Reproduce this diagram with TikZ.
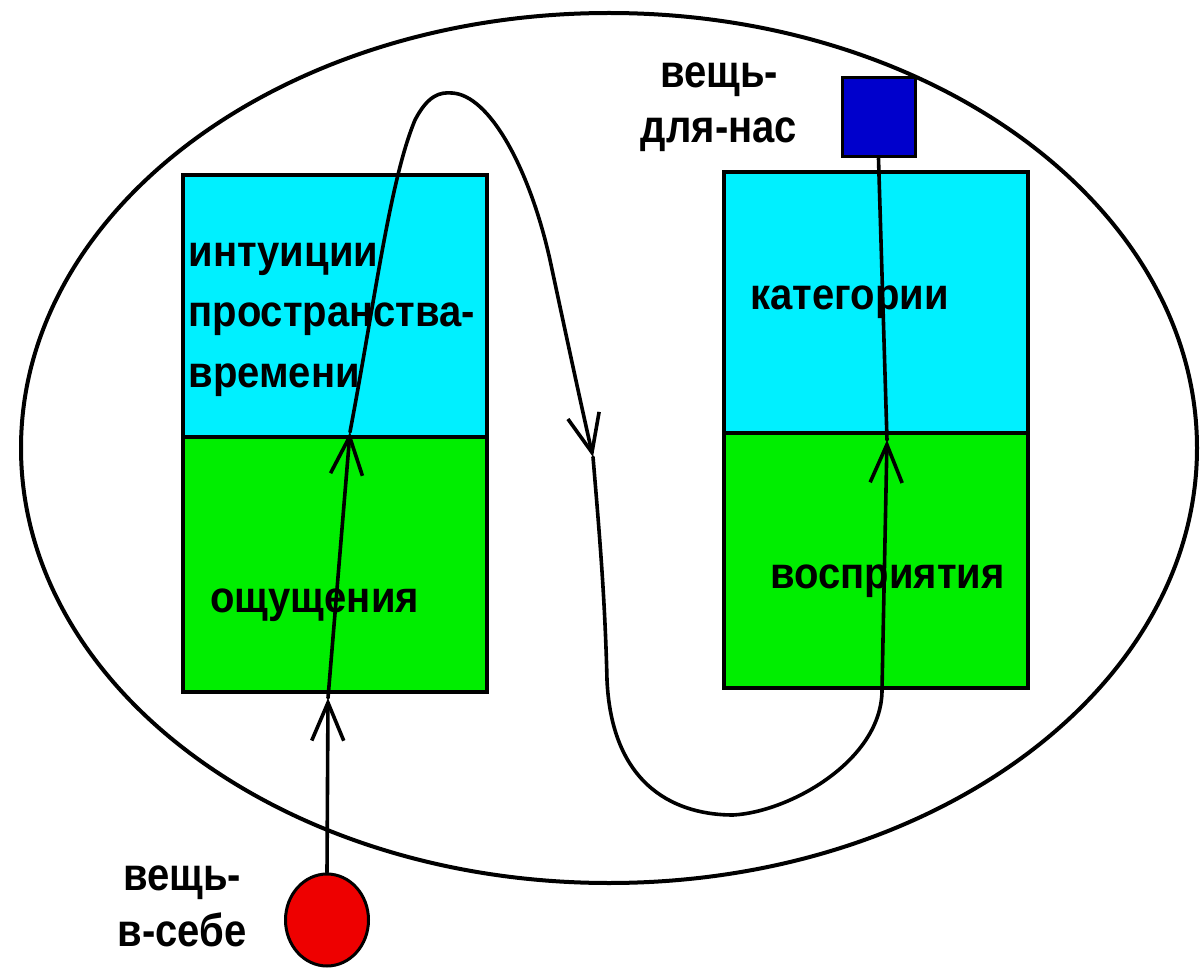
\documentclass[tikz,border=0pt]{standalone}
\usepackage{fontspec}
\setmainfont{Liberation Sans}
\usetikzlibrary{arrows.meta,shapes.geometric}
\definecolor{sky}{RGB}{0,240,255}
\definecolor{grass}{RGB}{0,238,0}
\definecolor{sqblue}{RGB}{0,0,204}
\definecolor{ballred}{RGB}{238,0,0}
\tikzset{
  part/.style={draw, line width=2pt, inner sep=0pt, minimum width=152pt},
  boxtext/.style={font=\fontsize{20}{27.3}\selectfont\bfseries, inner sep=0pt, anchor=base west, align=left, yscale=1.1},
  labeltext/.style={font=\fontsize{20}{24}\selectfont\bfseries, inner sep=0pt, anchor=base, align=center, yscale=1.15},
  flow/.style={line width=1.8pt, line cap=round, line join=round, -{Straight Barb[length=19pt,width=16pt,line width=1.8pt]}},
  flowplain/.style={line width=1.8pt, line cap=round, line join=round}
}
\begin{document}
\begin{tikzpicture}[x=0.5pt,y=-0.5pt]
\useasboundingbox (0,0) rectangle (1200,973);
\fill[white] (0,0) rectangle (1200,973);
% outer ellipse
\draw[line width=2pt] (609,448) ellipse [x radius=588, y radius=435];
% left box
\node[part, fill=sky, minimum height=131pt] (lsky) at (335,306) {};
\node[part, fill=grass, minimum height=127.5pt] (lgrass) at (335,564.5) {};
% right box
\node[part, fill=sky, minimum height=130.5pt] (rsky) at (875.5,302.5) {};
\node[part, fill=grass, minimum height=127.5pt] (rgrass) at (875.5,560.5) {};
% texts (base anchor = last line's baseline)
\node[boxtext] (tint) at (188,387) {интуиции\\пространства-\\времени};
\node[boxtext] (tsens) at (210,612) {ощущения};
\node[boxtext] (tcat) at (750,310) {категории};
\node[boxtext] (tperc) at (770,588) {восприятия};
\node[labeltext] (lself) at (182,946) {вещь-\\в-себе};
\node[labeltext] (lus) at (719,143) {вещь-\\для-нас};
% thing and square
\node[draw, line width=1.5pt, fill=ballred, shape=ellipse, minimum width=41.5pt, minimum height=46pt, inner sep=0pt] (self) at (327,920) {};
\node[draw, line width=1.5pt, fill=sqblue, minimum width=36.5pt, minimum height=39.5pt, inner sep=0pt] (us) at (878.5,117.5) {};
% path
\coordinate (a1) at (328,698);
\coordinate (a2) at (350,432);
\coordinate (a3) at (593,457);
\coordinate (a4) at (887,440);
\draw[flow] (self.north) -- (a1);
\draw[flow] (a1) -- (a2);
\draw[flow] (a2) .. controls (375,300) and (390,180) .. (415,120)
  .. controls (428,95) and (440,92) .. (452,93)
  .. controls (490,95) and (530,170) .. (550,260)
  .. controls (565,330) and (580,400) .. (a3);
\draw[flow] (a3) .. controls (600,540) and (605,600) .. (607,680)
  .. controls (612,790) and (680,815) .. (733,815)
  .. controls (790,812) and (882,760) .. (882,690) -- (a4);
\draw[flowplain] (a4) -- (us.south);
\end{tikzpicture}
\end{document}
